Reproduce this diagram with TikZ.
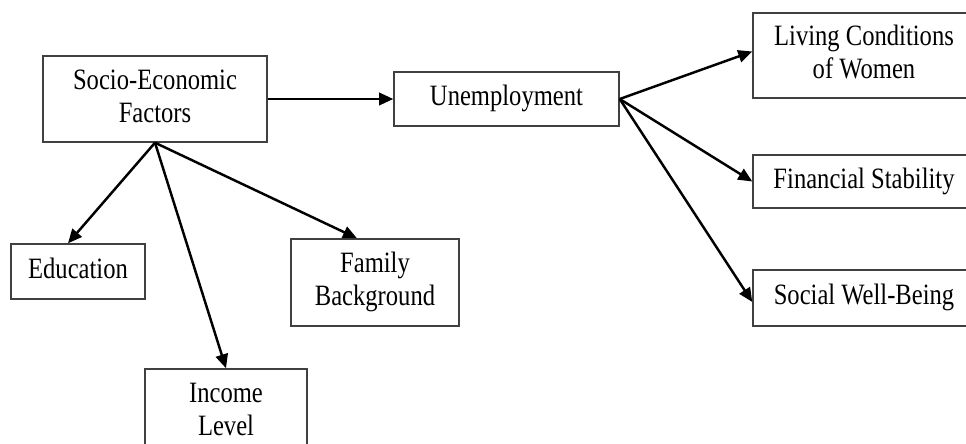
\documentclass[tikz,border=0pt]{standalone}
\usepackage{fontspec}
\setmainfont{Liberation Serif}
\usepackage{graphicx}
\usepackage{tikz}
\usetikzlibrary{arrows.meta, positioning, calc}
\definecolor{boxLine}{HTML}{404040}
\definecolor{inkDark}{HTML}{000000}

\def\pxu{0.02cm} % one reference pixel
% the reference sets its labels a little taller than wide
\newcommand\tallLabel[1]{\scalebox{1}[1.2]{\begin{tabular}{@{}c@{}}#1\end{tabular}}}

\begin{document}
\begin{tikzpicture}[
  x=0.02cm, y=-0.02cm,
  font=\fontsize{14}{15.6}\selectfont,
  >={Triangle[length=8pt, width=7pt]},
  every node/.style={align=center},
  box/.style={rectangle, draw=boxLine, line width=0.8pt, fill=white,
              inner sep=2pt, text=inkDark},
  factorbox/.style={box, minimum width=134*\pxu, minimum height=55*\pxu},
  outcomebox/.style={box, minimum width=222*\pxu},
  arrow/.style={->, draw=inkDark, line width=1.4pt},
]

% ── Canvas ─────────────────────────────────────────────────────────
\clip (0,0) rectangle (966,443);

% ── Nodes ──────────────────────────────────────────────────────────
\node[box, minimum width=224*\pxu, minimum height=86*\pxu]
  (socio) at (155,99) {\tallLabel{Socio-Economic\\Factors}};
\node[box, minimum width=225*\pxu, minimum height=54*\pxu]
  (unemp) at (506.5,99) {\tallLabel{Unemployment}};

\node[factorbox] (edu)    at (78,271.5) {\tallLabel{Education}};
\node[box, minimum width=168*\pxu, minimum height=87*\pxu]
  (family) at (375,282.5) {\tallLabel{Family\\Background}};
\node[box, minimum width=162*\pxu, minimum height=86*\pxu]
  (income) at (226,412) {\tallLabel{Income\\Level}};

\node[outcomebox, minimum height=85*\pxu] (living)    at (864,55.5)  {\tallLabel{Living Conditions\\of Women}};
\node[outcomebox, minimum height=53*\pxu] (financial) at (864,181.5) {\tallLabel{Financial Stability}};
\node[outcomebox, minimum height=56*\pxu] (social)    at (864,298)   {\tallLabel{Social Well-Being}};

% ── Arrows ─────────────────────────────────────────────────────────
\coordinate (eduIn)    at ($(edu.north)+(-10,0)$);
\coordinate (familyIn) at ($(family.north)+(-18,0)$);
\coordinate (livingIn) at ($(living.west)+(0,-4)$);
\coordinate (socialIn) at ($(social.west)+(0,4)$);

\draw[arrow] (socio)       -- (unemp);
\draw[arrow] (socio.south) -- (eduIn);
\draw[arrow] (socio.south) -- (income.north);
\draw[arrow] (socio.south) -- (familyIn);

\draw[arrow] (unemp.east) -- (livingIn);
\draw[arrow] (unemp.east) -- (financial.west);
\draw[arrow] (unemp.east) -- (socialIn);

\end{tikzpicture}
\end{document}
